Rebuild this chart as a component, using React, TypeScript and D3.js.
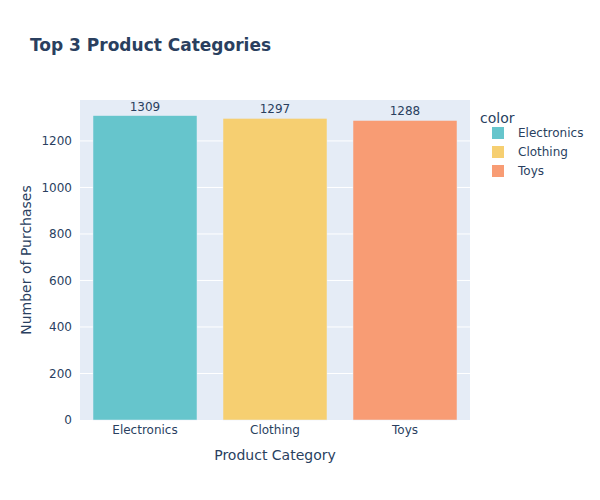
import * as d3 from "d3";

const categories = ["Electronics", "Clothing", "Toys"];
const purchases = [1309, 1297, 1288];
const barColors = ["#66C5CC", "#F6CF71", "#F89C74"];
const yTicks = [0, 200, 400, 600, 800, 1000, 1200];

const W = 600;
const H = 500;
const margin = { top: 100, right: 130, bottom: 80, left: 80 };
const font = "'DejaVu Sans', Verdana, sans-serif";
const ink = "#2a3f5f";

export default function App() {
  const innerW = W - margin.left - margin.right;
  const innerH = H - margin.top - margin.bottom;

  const x = d3.scaleBand<string>().domain(categories).range([0, innerW]).paddingInner(0.2).paddingOuter(0.1);
  // plotly autorange leaves ~5% headroom above the tallest bar
  const y = d3.scaleLinear().domain([0, 1376]).range([innerH, 0]);

  const color = d3.scaleOrdinal<string, string>().domain(categories).range(barColors);

  return (
    <svg width={W} height={H} style={{ position: "absolute", left: 0, top: 0, fontFamily: font }}>
      <rect width={W} height={H} fill="#fff" />
      <text x={30} y={51} fontSize={17} fontWeight="bold" fill={ink}>
        Top 3 Product Categories
      </text>

      <g transform={`translate(${margin.left},${margin.top})`}>
        <rect width={innerW} height={innerH} fill="#E5ECF6" />
        {yTicks.slice(1).map((t) => (
          <line key={t} x1={0} x2={innerW} y1={y(t)} y2={y(t)} stroke="#fff" strokeWidth={1} />
        ))}
        {yTicks.map((t) => (
          <text key={t} x={-8} y={y(t)} dy="0.35em" textAnchor="end" fontSize={12} fill={ink}>
            {t}
          </text>
        ))}

        {categories.map((c, i) => (
          <g key={c}>
            <rect
              x={x(c)}
              y={y(purchases[i])}
              width={x.bandwidth()}
              height={innerH - y(purchases[i])}
              fill={color(c)}
              stroke="#E5ECF6"
              strokeWidth={0.5}
            />
            <text
              x={(x(c) ?? 0) + x.bandwidth() / 2}
              y={y(purchases[i]) - 5}
              textAnchor="middle"
              fontSize={12}
              fill={ink}
            >
              {purchases[i]}
            </text>
            <text
              x={(x(c) ?? 0) + x.bandwidth() / 2}
              y={innerH + 14}
              textAnchor="middle"
              fontSize={12}
              fill={ink}
            >
              {c}
            </text>
          </g>
        ))}

        <text x={innerW / 2} y={innerH + 40} textAnchor="middle" fontSize={14} fill={ink}>
          Product Category
        </text>
        <text
          transform={`translate(${-49},${innerH / 2}) rotate(-90)`}
          textAnchor="middle"
          fontSize={14}
          fill={ink}
        >
          Number of Purchases
        </text>
      </g>

      <g transform="translate(480,0)">
        <text x={0} y={123} fontSize={14} fill={ink}>color</text>
        {categories.map((c, i) => (
          <g key={c} transform={`translate(0,${133 + i * 19})`}>
            <rect x={12} y={-6} width={12} height={12} fill={color(c)} />
            <text x={38} y={0} dy="0.35em" fontSize={12} fill={ink}>
              {c}
            </text>
          </g>
        ))}
      </g>
    </svg>
  );
}
